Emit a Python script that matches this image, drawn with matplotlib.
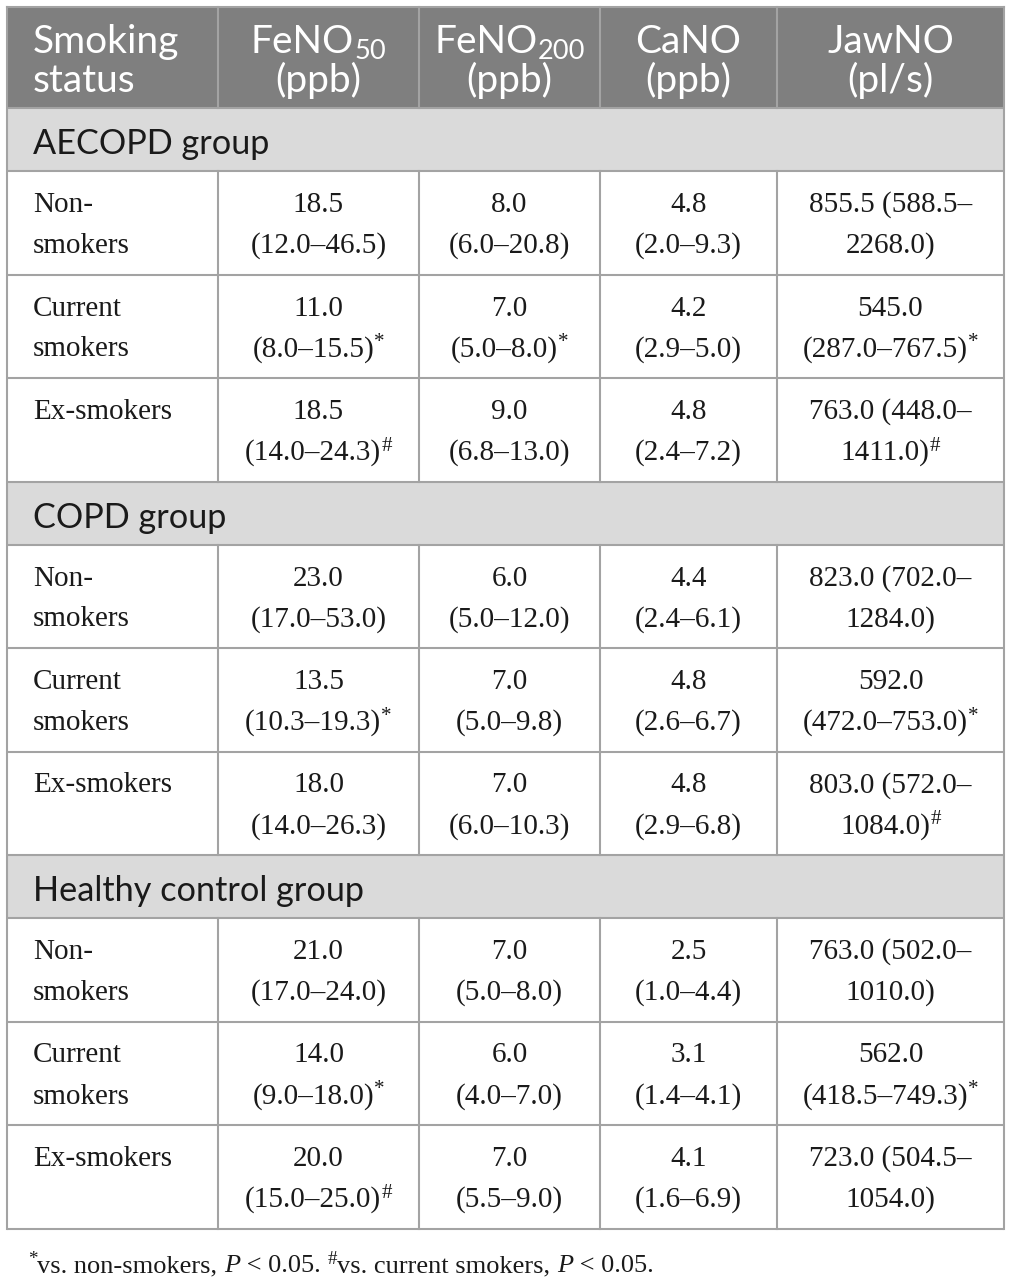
import matplotlib.pyplot as plt
from matplotlib.patches import Rectangle

# table content
headers = [[('Smoking', '')], [('FeNO', ''), ('50', 'sub')], [('FeNO', ''), ('200', 'sub')],
           [('CaNO', '')], [('JawNO', '')]]
header_units = ['status', '(ppb)', '(ppb)', '(ppb)', '(pl/s)']
groups = ['AECOPD group', 'COPD group', 'Healthy control group']
statuses = ['Non-\nsmokers', 'Current\nsmokers', 'Ex-smokers']

feno50 = ['18.5 (12.0–46.5)', '11.0 (8.0–15.5)', '18.5 (14.0–24.3)',
          '23.0 (17.0–53.0)', '13.5 (10.3–19.3)', '18.0 (14.0–26.3)',
          '21.0 (17.0–24.0)', '14.0 (9.0–18.0)', '20.0 (15.0–25.0)']
feno50_sig = ['', '*', '#', '', '*', '', '', '*', '#']
feno200 = ['8.0 (6.0–20.8)', '7.0 (5.0–8.0)', '9.0 (6.8–13.0)',
           '6.0 (5.0–12.0)', '7.0 (5.0–9.8)', '7.0 (6.0–10.3)',
           '7.0 (5.0–8.0)', '6.0 (4.0–7.0)', '7.0 (5.5–9.0)']
feno200_sig = ['', '*', '', '', '', '', '', '', '']
cano = ['4.8 (2.0–9.3)', '4.2 (2.9–5.0)', '4.8 (2.4–7.2)',
        '4.4 (2.4–6.1)', '4.8 (2.6–6.7)', '4.8 (2.9–6.8)',
        '2.5 (1.0–4.4)', '3.1 (1.4–4.1)', '4.1 (1.6–6.9)']
cano_sig = [''] * 9
jawno = ['855.5 (588.5–2268.0)', '545.0 (287.0–767.5)', '763.0 (448.0–1411.0)',
         '823.0 (702.0–1284.0)', '592.0 (472.0–753.0)', '803.0 (572.0–1084.0)',
         '763.0 (502.0–1010.0)', '562.0 (418.5–749.3)', '723.0 (504.5–1054.0)']
jawno_sig = ['', '*', '#', '', '*', '#', '', '*', '']

columns = [(feno50, feno50_sig), (feno200, feno200_sig), (cano, cano_sig), (jawno, jawno_sig)]

# layout (pixels)
W, H = 1012, 1281
col_x = [7, 218, 419, 600, 777, 1004]
header_y = (7, 108)
group_h = 63
row_h = 103.5

HEAD_BG = '#7f7f7f'
GROUP_BG = '#dadada'
LINE = '#a3a3a3'
TXT = '#1a1a1a'
SANS = 'Lato'
SERIF = 'Liberation Serif'

fig = plt.figure(figsize=(W / 100, H / 100), dpi=100)
ax = fig.add_axes([0, 0, 1, 1])
ax.set_xlim(0, W)
ax.set_ylim(H, 0)
ax.axis('off')
renderer = fig.canvas.get_renderer()


def text_width(s, size, family, style='normal'):
    # width with padding trick so spaces count
    t1 = ax.text(0, 0, 'x' + s + 'x', fontsize=size, family=family, style=style)
    t2 = ax.text(0, 0, 'xx', fontsize=size, family=family, style=style)
    w = t1.get_window_extent(renderer).width - t2.get_window_extent(renderer).width
    t1.remove()
    t2.remove()
    return w


def draw_runs(x, y, runs, size, family, color, ha='left', sup_scale=0.72, sub_scale=0.7):
    items = []
    for s, kind in runs:
        fs = size
        if kind == 'sup':
            fs = size * sup_scale
        elif kind == 'sub':
            fs = size * sub_scale
        st = 'italic' if kind == 'it' else 'normal'
        items.append((s, kind, fs, st, text_width(s, fs, family, st)))
    total = sum(it[4] for it in items)
    x0 = x - total / 2 if ha == 'center' else x
    px = size * 100 / 72
    for s, kind, fs, st, w in items:
        dy = 0
        if kind == 'sup':
            dy = -0.32 * px
        elif kind == 'sub':
            dy = 0.15 * px
        ax.text(x0, y + dy, s, fontsize=fs, family=family, style=st, color=color,
                va='baseline', ha='left')
        x0 += w


def split_cell(s):
    med, rng = s.split(' ', 1)
    lo, hi = rng[1:-1].split('–')
    if len(hi) > 5:
        return [med + ' (' + lo + '–', hi + ')']
    return [med, rng]


# header
ax.add_patch(Rectangle((col_x[0], header_y[0]), col_x[-1] - col_x[0], header_y[1] - header_y[0],
                       facecolor=HEAD_BG, edgecolor='none'))
hsize = 28
for i in range(5):
    cx = (col_x[i] + col_x[i + 1]) / 2
    if i == 0:
        draw_runs(33, 53, headers[i], hsize, SANS, 'white')
        draw_runs(33, 92, [(header_units[i], '')], hsize, SANS, 'white')
    else:
        draw_runs(cx, 53, headers[i], hsize, SANS, 'white', ha='center')
        draw_runs(cx, 92, [(header_units[i], '')], hsize, SANS, 'white', ha='center')

# body
gsize = 24.7
bsize = 21
y = header_y[1]
hlines = [header_y[1]]
vspans = []
for g, gname in enumerate(groups):
    ax.add_patch(Rectangle((col_x[0], y), col_x[-1] - col_x[0], group_h,
                           facecolor=GROUP_BG, edgecolor='none'))
    draw_runs(33, y + 46, [(gname, '')], gsize, SANS, TXT)
    y += group_h
    hlines.append(y)
    top = y
    for r, status in enumerate(statuses):
        k = g * 3 + r
        for li, line in enumerate(status.split('\n')):
            draw_runs(33, y + 41 + 41 * li, [(line, '')], bsize, SERIF, TXT)
        for c, (vals, sig) in enumerate(columns):
            cx = (col_x[c + 1] + col_x[c + 2]) / 2
            lines = split_cell(vals[k])
            for li, line in enumerate(lines):
                runs = [(line, '')]
                if li == len(lines) - 1 and sig[k]:
                    runs.append((sig[k], 'sup'))
                draw_runs(cx, y + 41 + 41 * li, runs, bsize, SERIF, TXT, ha='center')
        y += row_h
        hlines.append(y)
    vspans.append((top, y))

# grid lines
lw = 1.5
for hy in hlines:
    ax.plot([col_x[0], col_x[-1]], [hy, hy], color=LINE, lw=lw, solid_capstyle='butt')
ax.plot([col_x[0], col_x[-1]], [header_y[0], header_y[0]], color=LINE, lw=lw)
for xx in col_x[1:-1]:
    ax.plot([xx, xx], header_y, color=LINE, lw=lw)
    for t0, t1 in vspans:
        ax.plot([xx, xx], [t0, t1], color=LINE, lw=lw)
for xx in (col_x[0], col_x[-1]):
    ax.plot([xx, xx], [header_y[0], hlines[-1]], color=LINE, lw=lw)

# footnote
draw_runs(28, 1272, [('*', 'sup'), ('vs. non-smokers, ', ''), ('P', 'it'), (' < 0.05. ', ''),
                     ('#', 'sup'), ('vs. current smokers, ', ''), ('P', 'it'), (' < 0.05.', '')],
          19, SERIF, TXT)

fig.savefig('out.png', dpi=100, facecolor='white')
